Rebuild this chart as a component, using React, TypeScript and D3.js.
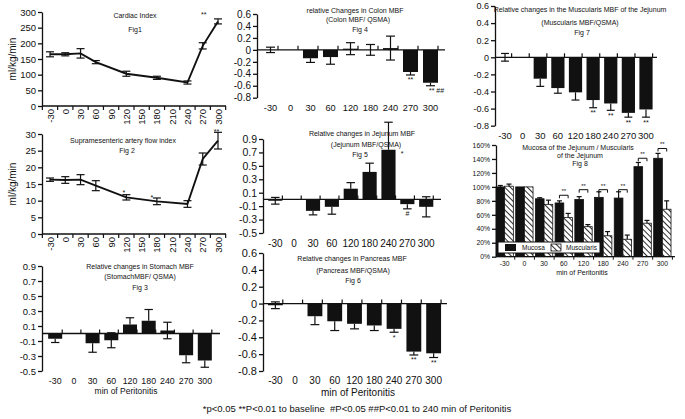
import { useEffect, useRef } from 'react';
import * as d3 from 'd3';

const FONT = "'Liberation Sans', Arial, Helvetica, sans-serif";
const INK = '#111';

// time points (min of peritonitis)
const lineTimes = [-30, 0, 30, 60, 120, 180, 240, 270, 300];
const lineTickLabels = [-30, 0, 30, 60, 90, 120, 150, 180, 210, 240, 270, 300];
const barCategories = ['-30', '0', '30', '60', '120', '180', '240', '270', '300'];

// Fig 1 cardiac index (ml/kg/min)
const cardiacMean = [165, 165, 168, 140, 103, 90, 75, 192, 270];
const cardiacSem = [8, 5, 15, 5, 8, 5, 5, 10, 8];
const cardiacTicks = [0, 50, 100, 150, 200, 250, 300];

// Fig 2 supramesenteric artery flow index (ml/kg/min)
const smaMean = [16.3, 16.2, 16.3, 14.5, 11, 9.8, 9, 22.5, 28];
const smaSem = [0.5, 1, 1.5, 1.5, 0.8, 1, 1, 1.8, 2.5];
const smaTicks = [0, 5, 10, 15, 20, 25, 30];

// Fig 3 stomach MBF / QSMA
const stomachMean = [-0.07, 0, -0.13, -0.09, 0.12, 0.17, 0.04, -0.29, -0.36];
const stomachSem = [0.05, 0, 0.12, 0.1, 0.09, 0.15, 0.11, 0.1, 0.09];
const stomachTicks = [-0.5, -0.3, -0.1, 0.1, 0.3, 0.5, 0.7, 0.9];

// Fig 4 colon MBF / QSMA
const colonMean = [0, 0, -0.14, -0.12, 0.02, 0, 0.03, -0.37, -0.55];
const colonSem = [0.045, 0, 0.07, 0.12, 0.1, 0.09, 0.2, 0.05, 0.05];
const colonMarks = ['', '', '', '', '', '', '', '**', '** ##'];
const colonTicks = [-0.8, -0.6, -0.4, -0.2, 0, 0.2, 0.4, 0.6];

// Fig 5 jejunum MBF / QSMA
const jejunumMean = [-0.02, 0, -0.17, -0.11, 0.16, 0.41, 0.74, -0.07, -0.11];
const jejunumSem = [0.05, 0, 0.06, 0.11, 0.09, 0.13, 0.41, 0.07, 0.15];
const jejunumMarks = ['', '', '', '', '', '', '', '#', ''];
const jejunumTicks = [-0.5, -0.3, -0.1, 0.1, 0.3, 0.5, 0.7, 0.9];

// Fig 6 pancreas MBF / QSMA
const pancreasMean = [-0.02, 0, -0.15, -0.21, -0.24, -0.26, -0.3, -0.57, -0.59];
const pancreasSem = [0.04, 0, 0.1, 0.11, 0.06, 0.06, 0.04, 0.04, 0.05];
const pancreasMarks = ['', '', '', '', '', '', '*', '**', '**'];
const pancreasTicks = [-0.8, -0.6, -0.4, -0.2, 0, 0.2, 0.4, 0.6];

// Fig 7 muscularis MBF of the jejunum / QSMA
const muscMean = [0, 0, -0.25, -0.36, -0.41, -0.5, -0.54, -0.65, -0.61];
const muscSem = [0.045, 0, 0.09, 0.06, 0.09, 0.09, 0.08, 0.05, 0.09];
const muscMarks = ['', '', '', '', '', '**', '**', '**', '**'];
const muscTicks = [-0.8, -0.6, -0.4, -0.2, 0, 0.2, 0.4, 0.6];

// Fig 8 mucosa vs muscularis (% of baseline)
const mucosaPct = [100, 100, 83, 77, 82, 85, 84, 129, 141];
const mucosaPctSem = [2, 0, 1.5, 3, 4, 8, 9, 6, 7];
const muscularisPct = [101, 100, 75, 56, 43, 30, 25, 48, 68];
const muscularisPctSem = [3, 0, 6, 6, 3, 6, 6, 4, 12];
const pairBracket = [null, null, null, 88, 96, 96, 96, 141, 155];
const pctTicks = [0, 20, 40, 60, 80, 100, 120, 140, 160];

type Sel = d3.Selection<any, unknown, null, undefined>;

const fmt = (v: number) => (v === 0 ? '0' : String(+v.toFixed(1)));

function text(g: Sel, s: string, x: number, y: number, size: number, anchor = 'middle') {
  return g
    .append('text')
    .attr('x', x)
    .attr('y', y)
    .attr('text-anchor', anchor)
    .attr('dominant-baseline', 'central')
    .attr('font-family', FONT)
    .attr('font-size', size)
    .attr('fill', INK)
    .text(s);
}

function yAxis(g: Sel, x: number, y: d3.ScaleLinear<number, number>, ticks: number[], size: number, f = fmt) {
  const ax = g
    .append('g')
    .attr('transform', `translate(${x},0)`)
    .call(d3.axisLeft(y).tickValues(ticks).tickSize(4).tickSizeOuter(0).tickPadding(2).tickFormat((d) => f(+d)));
  ax.selectAll('path, line').attr('stroke', INK).attr('stroke-width', 1.3);
  ax.selectAll('text').attr('font-family', FONT).attr('font-size', size).attr('fill', INK);
}

function errBar(g: Sel, x: number, y1: number, y2: number, cap: number, caps: number[]) {
  g.append('line').attr('x1', x).attr('x2', x).attr('y1', y1).attr('y2', y2).attr('stroke', INK).attr('stroke-width', 1.2);
  caps.forEach((cy) =>
    g.append('line').attr('x1', x - cap).attr('x2', x + cap).attr('y1', cy).attr('y2', cy).attr('stroke', INK).attr('stroke-width', 1.2)
  );
}

interface LineCfg {
  top: number;
  bottom: number;
  domain: [number, number];
  ticks: number[];
  mean: number[];
  sem: number[];
  titles: [string, number, number][];
  marks: [string, number, number][];
}

function linePanel(svg: Sel, c: LineCfg) {
  const g = svg.append('g');
  const x = d3.scaleLinear().domain([-30, 300]).range([50, 218]);
  const y = d3.scaleLinear().domain(c.domain).range([c.bottom, c.top]);
  yAxis(g, 42, y, c.ticks, 9.5);
  // x axis
  g.append('line').attr('x1', 42).attr('x2', 226).attr('y1', c.bottom).attr('y2', c.bottom).attr('stroke', INK).attr('stroke-width', 1.3);
  g.selectAll('line.xt')
    .data(d3.range(13))
    .join('line')
    .attr('x1', (i) => x(-45 + 30 * i))
    .attr('x2', (i) => x(-45 + 30 * i))
    .attr('y1', c.bottom)
    .attr('y2', c.bottom + 4)
    .attr('stroke', INK)
    .attr('stroke-width', 1.2);
  lineTickLabels.forEach((t) =>
    text(g, String(t), 0, 0, 9.5, 'end').attr('transform', `translate(${x(t)},${c.bottom + 3}) rotate(-90)`)
  );
  text(g, 'ml/kg/min', 0, 0, 10).attr('transform', `translate(12,${(c.top + c.bottom) / 2}) rotate(-90)`);
  const line = d3
    .line<number>()
    .x((_, i) => x(lineTimes[i]))
    .y((d) => y(d));
  g.append('path').attr('d', line(c.mean)).attr('fill', 'none').attr('stroke', INK).attr('stroke-width', 1.9);
  c.mean.forEach((m, i) => {
    const lo = y(m - c.sem[i]);
    const hi = y(m + c.sem[i]);
    errBar(g, x(lineTimes[i]), lo, hi, 4, [lo, hi]);
  });
  c.titles.forEach(([s, tx, ty]) => text(g, s, tx, ty, 7));
  c.marks.forEach(([s, t, v]) => text(g, s, x(t), y(v), 7));
}

interface BarCfg {
  axisX: number;
  band: [number, number];
  axisEnd: number;
  top: number;
  bottom: number;
  domain: [number, number];
  ticks: number[];
  tickFont: number;
  labelY: number;
  labelFont: number;
  mean: number[];
  sem: number[];
  marks?: string[];
  titles: [string, number, number][];
  xTitle?: [number, number, number];
}

function barPanel(svg: Sel, c: BarCfg) {
  const g = svg.append('g');
  const x = d3.scaleBand().domain(barCategories).range(c.band).padding(0.25);
  const y = d3.scaleLinear().domain(c.domain).range([c.bottom, c.top]);
  const y0 = y(0);
  yAxis(g, c.axisX, y, c.ticks, c.tickFont);

  barCategories.forEach((cat, i) => {
    const m = c.mean[i];
    const s = c.sem[i];
    const cx = (x(cat) || 0) + x.bandwidth() / 2;
    if (m !== 0) {
      g.append('rect')
        .attr('x', x(cat) || 0)
        .attr('width', x.bandwidth())
        .attr('y', Math.min(y(m), y0))
        .attr('height', Math.abs(y(m) - y0))
        .attr('fill', INK);
    }
    if (s > 0) {
      const cap = x.bandwidth() * 0.3;
      if (Math.abs(m) < s) {
        errBar(g, cx, y(m - s), y(m + s), cap, [y(m - s), y(m + s)]);
      } else {
        const end = y(m + Math.sign(m) * s);
        errBar(g, cx, y(m), end, cap, [end]);
      }
    }
    const mk = c.marks ? c.marks[i] : '';
    if (mk) {
      const dir = m < 0 ? 1 : -1;
      const yy = y(m + Math.sign(m) * s) + dir * 5;
      text(g, mk, cx + (mk.length > 2 ? 6 : 0), yy, 7);
    }
    text(g, cat, cx, c.labelY, c.labelFont);
  });

  // zero line with category separators
  g.append('line').attr('x1', c.axisX).attr('x2', c.axisEnd).attr('y1', y0).attr('y2', y0).attr('stroke', INK).attr('stroke-width', 1.3);
  g.selectAll('line.sep')
    .data(d3.range(1, barCategories.length + 1))
    .join('line')
    .attr('x1', (i) => c.band[0] + i * x.step())
    .attr('x2', (i) => c.band[0] + i * x.step())
    .attr('y1', y0 - 4)
    .attr('y2', y0)
    .attr('stroke', INK)
    .attr('stroke-width', 1.2);

  c.titles.forEach(([s, tx, ty]) => text(g, s, tx, ty, 7));
  if (c.xTitle) text(g, 'min of Peritonitis', c.xTitle[0], c.xTitle[1], c.xTitle[2]);
}

function pairPanel(svg: Sel) {
  const g = svg.append('g');
  const axisX = 496;
  const x = d3.scaleBand().domain(barCategories).range([495, 672]).paddingInner(0.12).paddingOuter(0.05);
  const sub = d3.scaleBand().domain(['mucosa', 'muscularis']).range([0, x.bandwidth()]);
  const y = d3.scaleLinear().domain([0, 160]).range([256.7, 145]);
  yAxis(g, axisX, y, pctTicks, 6.8, (v) => `${v}%`);
  const y0 = y(0);

  barCategories.forEach((cat, i) => {
    const bx = x(cat) || 0;
    const series: [string, number, number, string][] = [
      ['mucosa', mucosaPct[i], mucosaPctSem[i], INK],
      ['muscularis', muscularisPct[i], muscularisPctSem[i], 'url(#hatch)'],
    ];
    series.forEach(([k, v, s, fill]) => {
      const sx = bx + (sub(k) || 0);
      g.append('rect')
        .attr('x', sx)
        .attr('width', sub.bandwidth())
        .attr('y', y(v))
        .attr('height', y0 - y(v))
        .attr('fill', fill)
        .attr('stroke', INK)
        .attr('stroke-width', 0.8);
      if (s > 0) errBar(g, sx + sub.bandwidth() / 2, y(v), y(v + s), 2.5, [y(v + s)]);
    });
    const b = pairBracket[i];
    if (b !== null) {
      const xa = bx + sub.bandwidth() / 2;
      const xb = bx + sub.bandwidth() * 1.5;
      g.append('path')
        .attr('d', `M${xa},${y(b) + 3}V${y(b)}H${xb}V${y(b) + 3}`)
        .attr('fill', 'none')
        .attr('stroke', INK)
        .attr('stroke-width', 1);
      text(g, '**', (xa + xb) / 2, y(b) - 4, 6);
    }
    text(g, cat, bx + x.bandwidth() / 2, 263, 6.8);
  });

  g.append('line').attr('x1', axisX).attr('x2', 675).attr('y1', y0).attr('y2', y0).attr('stroke', INK).attr('stroke-width', 1.3);
  g.selectAll('line.sep')
    .data(d3.range(1, barCategories.length + 1))
    .join('line')
    .attr('x1', (i) => 495 + i * x.step())
    .attr('x2', (i) => 495 + i * x.step())
    .attr('y1', y0)
    .attr('y2', y0 + 3)
    .attr('stroke', INK)
    .attr('stroke-width', 1);

  // legend
  const lg = g.append('g');
  lg.append('rect').attr('x', 498).attr('y', 242).attr('width', 102).attr('height', 11).attr('fill', '#fff').attr('stroke', INK).attr('stroke-width', 1);
  lg.append('rect').attr('x', 505).attr('y', 244).attr('width', 11).attr('height', 7).attr('fill', INK);
  text(lg, 'Mucosa', 522, 247.5, 6.5, 'start');
  lg.append('rect').attr('x', 551).attr('y', 244).attr('width', 10).attr('height', 7).attr('fill', 'url(#hatch)').attr('stroke', INK).attr('stroke-width', 0.8);
  text(lg, 'Muscularis', 566, 247.5, 6.5, 'start');

  text(g, 'Mucosa of the Jejunum / Muscularis', 578, 147, 7);
  text(g, 'of the Jejunum', 580, 155, 7);
  text(g, 'Fig 8', 580, 163, 7);
  text(g, 'min of Peritonitis', 582, 272, 7);
}

export default function App() {
  const svgRef = useRef<SVGSVGElement>(null);

  useEffect(() => {
    if (!svgRef.current) return;
    const svg = d3.select(svgRef.current) as unknown as Sel;
    svg.selectAll('*').remove();

    const pat = svg
      .append('defs')
      .append('pattern')
      .attr('id', 'hatch')
      .attr('patternUnits', 'userSpaceOnUse')
      .attr('width', 4)
      .attr('height', 4)
      .attr('patternTransform', 'rotate(-45)');
    pat.append('rect').attr('width', 4).attr('height', 4).attr('fill', '#fff');
    pat.append('line').attr('x1', 0).attr('x2', 0).attr('y1', 0).attr('y2', 4).attr('stroke', INK).attr('stroke-width', 1.8);

    linePanel(svg, {
      top: 12,
      bottom: 106,
      domain: [0, 300],
      ticks: cardiacTicks,
      mean: cardiacMean,
      sem: cardiacSem,
      titles: [
        ['Cardiac Index', 135, 15],
        ['Fig1', 135, 29],
      ],
      marks: [['**', 272, 292]],
    });

    linePanel(svg, {
      top: 134,
      bottom: 234,
      domain: [0, 30],
      ticks: smaTicks,
      mean: smaMean,
      sem: smaSem,
      titles: [
        ['Supramesenteric artery flow index', 123, 140],
        ['Fig 2', 127, 150],
      ],
      marks: [
        ['*', 115, 12.5],
        ['*', 170, 11],
        ['**', 297, 30.8],
      ],
    });

    barPanel(svg, {
      axisX: 42,
      band: [43.5, 216.5],
      axisEnd: 220,
      top: 266,
      bottom: 371,
      domain: [-0.5, 0.9],
      ticks: stomachTicks,
      tickFont: 9.5,
      labelY: 381,
      labelFont: 8.8,
      mean: stomachMean,
      sem: stomachSem,
      titles: [
        ['Relative changes in Stomach MBF', 140, 266],
        ['(StomachMBF/ QSMA)', 140, 276],
        ['Fig 3', 140, 287],
      ],
      xTitle: [126, 391, 8.5],
    });

    barPanel(svg, {
      axisX: 257,
      band: [258, 443],
      axisEnd: 445,
      top: 14,
      bottom: 97.7,
      domain: [-0.8, 0.6],
      ticks: colonTicks,
      tickFont: 10,
      labelY: 108,
      labelFont: 9.2,
      mean: colonMean,
      sem: colonSem,
      marks: colonMarks,
      titles: [
        ['relative Changes in Colon MBF', 355, 10],
        ['(Colon MBF/ QSMA)', 358, 19.5],
        ['Fig 4', 360, 29],
      ],
    });

    barPanel(svg, {
      axisX: 263,
      band: [263.5, 438],
      axisEnd: 441,
      top: 139,
      bottom: 233,
      domain: [-0.5, 0.9],
      ticks: jejunumTicks,
      tickFont: 10.5,
      labelY: 243,
      labelFont: 10,
      mean: jejunumMean,
      sem: jejunumSem,
      marks: jejunumMarks,
      titles: [
        ['Relative changes in Jejunum MBF', 362, 133],
        ['(Jejunum MBF/QSMA)', 366, 144],
        ['Fig 5', 360, 154],
      ],
    });
    // significance mark beside the 240 min bar of Fig 5
    text(svg, '*', 402, 153, 7);

    barPanel(svg, {
      axisX: 263,
      band: [263, 446],
      axisEnd: 447,
      top: 253,
      bottom: 371,
      domain: [-0.8, 0.6],
      ticks: pancreasTicks,
      tickFont: 11,
      labelY: 380,
      labelFont: 10,
      mean: pancreasMean,
      sem: pancreasSem,
      marks: pancreasMarks,
      titles: [
        ['Relative changes in Pancreas MBF', 352, 258],
        ['(Pancreas MBF/QSMA)', 353, 270],
        ['Fig 6', 353, 280],
      ],
      xTitle: [358, 392, 10],
    });

    barPanel(svg, {
      axisX: 495,
      band: [494, 657],
      axisEnd: 657,
      top: 6,
      bottom: 125.7,
      domain: [-0.8, 0.6],
      ticks: muscTicks,
      tickFont: 9,
      labelY: 135,
      labelFont: 9.5,
      mean: muscMean,
      sem: muscSem,
      marks: muscMarks,
      titles: [
        ['Relative changes in the Muscularis MBF of the Jejunum', 580, 9],
        ['(Muscularis MBF/QSMA)', 580, 22],
        ['Fig 7', 582, 32],
      ],
    });

    pairPanel(svg);

    text(svg, '*p<0.05 **P<0.01 to baseline  #P<0.05 ##P<0.01 to 240 min of Peritonitis', 357, 408, 9.5).attr(
      'xml:space',
      'preserve'
    );
  }, []);

  return (
    <svg
      ref={svgRef}
      width={685}
      height={419}
      style={{ position: 'absolute', left: 0, top: 0, background: '#fff' }}
    />
  );
}
